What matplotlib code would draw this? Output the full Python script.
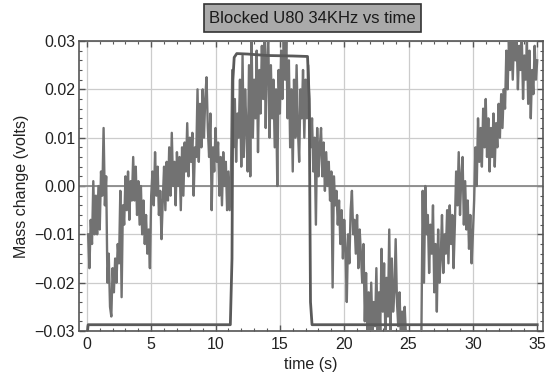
import numpy as np
import matplotlib
matplotlib.use("Agg")
import matplotlib.pyplot as plt
from matplotlib.patches import Rectangle
from matplotlib.ticker import MultipleLocator, FuncFormatter

plt.rcParams['font.family'] = ['Liberation Sans', 'DejaVu Sans']

title = "Blocked U80 34KHz vs time"
xlabel = "time (s)"
ylabel = "Mass change (volts)"

# noisy mass signal, millivolts, sampled every 0.1 s from 0.1 s to 35.0 s
mass_mv = [
    -10, -17, -7, -12, 1, -10, -2, -10, 0, -9,
    3, -2, 12, -4, 2, -20, -14, -25, -27, -17,
    -22, -15, -20, -12, -16, -1, -23, -4, -8, 2,
    -5, 3, -7, 1, -3, 6, -3, 4, -6, 1,
    -8, 0, -10, -3, -12, -6, -14, -9, -17, -2,
    3, -4, 7, -2, 4, -6, -1, -11, -3, 4,
    -5, 5, -3, 8, -2, 11, 0, 5, -4, 7,
    0, 6, -5, 8, -2, 9, 3, 13, 2, 10,
    5, 11, -2, 8, 6, 20, 5, 17, 8, 20,
    10, 18, 22.5, 12, 6, 15, -5, 8, 3, 12,
    5, 9, -2, 6, -4, 7, 0, 5, -5, 3,
    -5, 2, 24, 8, 18, 5, 15, 10, 22, 4,
    27, 6, 20, 12, 3, 25, 2, 31, 10, 22,
    14, 28, 7, 24, 15, 29, 18, 31, 12, 26,
    31, 10, 25, 14, 22, 8, 20, 0, 24, 15,
    28, 18, 31, 22, 31, 14, 26, 8, 20, 3,
    22, 10, 25, 12, 5, 20, 14, 24, 10, 22,
    14, 25, 15, 8, 14, 3, 10, -8, 12, 2,
    8, 12, 2, 9, -1, 7, 0, 5, -3, 3,
    -21, 2, -4, -1, -8, -3, -12, -5, -15, -7,
    -13, -24, -10, -16, -5, -1, -10, -7, -14, -6,
    -17, -9, -14, -20, -12, -28, -18, -30, -22, -31,
    -20, -31, -24, -29, -17, -31, -22, -30, -13, -26,
    -16, -31, -19, -27, -9, -30, -15, -26, -22, -11,
    -24, -29, -22, -31, -26, -30, -25, -31, -30, -31,
    -31, -30.5, -31, -30.5, -31, -30.5, -31, -30.5, -31, -30.5,
    -1, -20, 0, -10, -6, -18, -8, -14, -4, -22,
    -12, -26, -9, -20, -15, -6, -18, -10, -14, -5,
    -16, -4, -12, -6, -17, -8, 3, -4, 7, -6,
    2, 6, -8, 1, -9, -3, -13, -6, -16, -10,
    -3, 8, 0, 14, 5, 12, 4, 16, 8, 18,
    6, 14, 3, 12, 6, 15, 4, 13, 8, 17,
    10, 19, 12, 20, 16, 28, 20, 30, 24, 31,
    22, 31, 26, 31, 20, 29, 24, 31, 18, 27,
    22, 30, 17, 28, 14, 24, 19, 29, 22, 26,
]
t_start, t_step = 0.1, 0.1

# reference (blocking) square signal, millivolts
square_t = [0.05, 0.1, 11.15, 11.28, 11.35, 11.45, 11.65, 12.5, 14.0, 16.0, 17.15, 17.28, 17.38, 17.5, 35.0]
square_mv = [-30, -28.7, -28.7, -15, 22, 26.6, 27.4, 27.3, 27.0, 26.9, 26.8, 18, -24, -28.7, -28.7]

W, H = 552, 378
fig = plt.figure(figsize=(W / 100, H / 100), dpi=100)
ax = fig.add_axes([78.5 / W, 1 - 331 / H, (543 - 78.5) / W, (331 - 41) / H])

t = t_start + t_step * np.arange(len(mass_mv))
ax.plot(t, np.array(mass_mv) * 1e-3, color='#727272', lw=1.7, zorder=3)
ax.plot(square_t, np.array(square_mv) * 1e-3, color='#5a5a5a', lw=2.0, zorder=4)

ax.set_xlim(-0.65, 35.45)
ax.set_ylim(-0.03, 0.03)
ax.xaxis.set_major_locator(MultipleLocator(5))
ax.xaxis.set_minor_locator(MultipleLocator(1))
ax.yaxis.set_major_locator(MultipleLocator(0.01))
ax.yaxis.set_minor_locator(MultipleLocator(0.002))
ax.yaxis.set_major_formatter(FuncFormatter(
    lambda v, p: ('%.2f' % abs(v)) if round(v, 4) >= 0 else '\u2212%.2f' % abs(v)))

ax.grid(True, which='major', color='#cccccc', lw=0.9, zorder=1)
ax.axhline(0, color='#8a8a8a', lw=1.3, zorder=2)

for s in ax.spines.values():
    s.set_color('#555555')
    s.set_linewidth(1.2)
ax.tick_params(which='both', direction='in', top=True, right=True, color='#555555',
               labelsize=11.5, labelcolor='#222222')
ax.tick_params(which='major', length=4.5, width=1.0)
ax.tick_params(which='minor', length=2.5, width=0.8)
ax.tick_params(axis='y', pad=2.5)
ax.tick_params(axis='x', pad=4)

ax.set_xlabel(xlabel, fontsize=11.5, color='#222222', labelpad=4)
ax.set_ylabel(ylabel, fontsize=11.5, color='#222222', labelpad=4)

# title box
fig.patches.append(Rectangle((204 / W, 1 - 32 / H), 217 / W, 28 / H, transform=fig.transFigure,
                             facecolor='#aaaaaa', edgecolor='#333333', lw=1.2, figure=fig))
fig.text(312.5 / W, 1 - 18.5 / H, title, ha='center', va='center', fontsize=12, color='#1a1a1a')

fig.savefig('out.png', dpi=100, facecolor='white')
